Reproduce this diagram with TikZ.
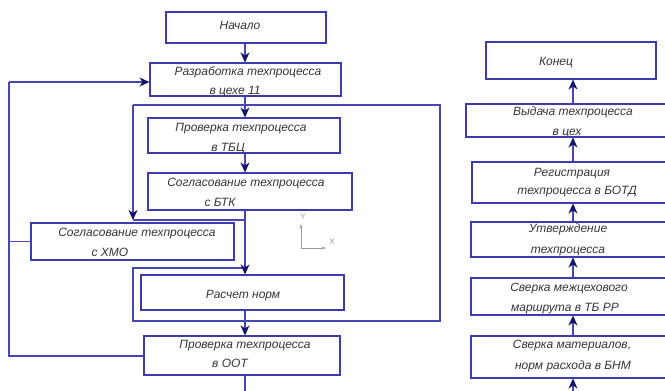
\documentclass[tikz,border=0pt]{standalone}
\usepackage{fontspec}
\setmainfont{Liberation Sans}
\usetikzlibrary{arrows.meta,calc}
\definecolor{boxblue}{HTML}{3C3CB0}
\definecolor{lineblue}{HTML}{4646B8}
\definecolor{headblue}{HTML}{14146E}
\definecolor{txtgray}{HTML}{363636}
\definecolor{axisgray}{HTML}{9A9A9A}
\tikzset{
  box/.style={draw=boxblue, line width=1.1pt, rectangle, inner sep=0pt},
  conn/.style={draw=lineblue, line width=1.1pt},
  arr/.style={conn, -{Stealth[length=10pt,width=9pt,inset=3pt,color=headblue]}},
  txt/.style={font=\itshape\fontsize{12}{14}\selectfont, text=txtgray, inner sep=0pt, anchor=base},
  axl/.style={font=\fontsize{8}{8}\selectfont, text=axisgray, inner sep=0pt},
}
\begin{document}
\begin{tikzpicture}[x=1pt,y=-1pt]
\useasboundingbox (0,0) rectangle (665,391);
\clip (0,0) rectangle (665,391);
\fill[white] (0,0) rectangle (665,391);
% boxes
\node[box, minimum width=160pt, minimum height=31pt] (start) at (246,27.5) {};
\node[box, minimum width=191pt, minimum height=33pt] (dev) at (245.5,79.5) {};
\node[box, minimum width=192pt, minimum height=35pt] (tbc) at (244,135.5) {};
\node[box, minimum width=204pt, minimum height=37pt] (btk) at (250,191.5) {};
\node[box, minimum width=203pt, minimum height=37pt] (xmo) at (132.5,241.5) {};
\node[box, minimum width=203pt, minimum height=35pt] (calc) at (242.5,292.5) {};
\node[box, minimum width=196pt, minimum height=39pt] (oot) at (242,355.5) {};
\node[box, minimum width=170pt, minimum height=37pt] (fin) at (571,60.5) {};
\node[box, minimum width=209pt, minimum height=33pt] (issue) at (570.5,120.5) {};
\node[box, minimum width=203pt, minimum height=41pt] (reg) at (573.5,182.5) {};
\node[box, minimum width=204pt, minimum height=35pt] (appr) at (573,239.5) {};
\node[box, minimum width=204pt, minimum height=37pt] (route) at (573,296.5) {};
\node[box, minimum width=204pt, minimum height=42pt] (mat) at (573,357) {};
% texts
\node[txt] (t1) at (240,29) {Начало};
\node[txt] (t2a) at (248,75) {Разработка техпроцесса};
\node[txt] (t2b) at (235,94) {в цехе 11};
\node[txt] (t3a) at (241,131) {Проверка техпроцесса};
\node[txt] (t3b) at (228,151) {в ТБЦ};
\node[txt] (t4a) at (246,186) {Согласование техпроцесса};
\node[txt] (t4b) at (220,206) {с БТК};
\node[txt] (t5a) at (137,236) {Согласование техпроцесса};
\node[txt] (t5b) at (110,256) {с ХМО};
\node[txt] (t6) at (243,298) {Расчет норм};
\node[txt] (t7a) at (245,348) {Проверка техпроцесса};
\node[txt] (t7b) at (230,367) {в ООТ};
\node[txt] (t8) at (556,65) {Конец};
\node[txt] (t9a) at (573,115) {Выдача техпроцесса};
\node[txt] (t9b) at (567,135) {в цех};
\node[txt] (t10a) at (572,176) {Регистрация};
\node[txt] (t10b) at (577,194) {техпроцесса в БОТД};
\node[txt] (t11a) at (568,232) {Утверждение};
\node[txt] (t11b) at (568,253) {техпроцесса};
\node[txt] (t12a) at (569,291) {Сверка межцехового};
\node[txt] (t12b) at (565,311) {маршрута в ТБ РР};
\node[txt] (t13a) at (572,348) {Сверка материалов,};
\node[txt] (t13b) at (573,369) {норм расхода в БНМ};
% helper coordinates
\coordinate (sx) at (245,0);
\coordinate (rx) at (573,0);
\coordinate (lt) at (133,105);
\coordinate (rt) at (440,105);
\coordinate (rb) at (440,321);
\coordinate (lb) at (133,321);
\coordinate (lm) at (133,268);
\coordinate (jn) at (133,220);
\coordinate (fb) at (9,82);
\coordinate (fbb) at (9,356);
\coordinate (bot) at (245,395);
\coordinate (rbot) at (573,395);
% loop frame
\draw[conn] (lm -| sx) -- (lm) -- (lb) -- (rb) -- (rt) -- (lt);
\draw[arr] (lt) -- (jn);
\draw[conn] (jn) -- (jn -| sx);
% main spine
\draw[arr] (start.south -| sx) -- (dev.north -| sx);
\draw[arr] (dev.south -| sx) -- (tbc.north -| sx);
\draw[arr] (tbc.south -| sx) -- (btk.north -| sx);
\draw[arr] (btk.south -| sx) -- (calc.north -| sx);
\draw[arr] (calc.south -| sx) -- (oot.north -| sx);
\draw[conn] (oot.south -| sx) -- (bot);
% feedback
\draw[conn] (oot.west |- fbb) -- (fbb) -- (fb);
\draw[arr] (fb) -- (fb -| dev.west);
\draw[conn] (xmo.west) -- (xmo.west -| fb);
% right column
\draw[arr] (rbot) -- (mat.south -| rx);
\draw[arr] (mat.north -| rx) -- (route.south -| rx);
\draw[arr] (route.north -| rx) -- (appr.south -| rx);
\draw[arr] (appr.north -| rx) -- (reg.south -| rx);
\draw[arr] (reg.north -| rx) -- (issue.south -| rx);
\draw[arr] (issue.north -| rx) -- (fin.south -| rx);
% axis symbol
\coordinate (ao) at (301,248);
\draw[axisgray, line width=0.6pt, -{Triangle[open,length=4pt,width=3pt]}] (ao) -- (301,224);
\draw[axisgray, line width=0.6pt, -{Triangle[open,length=4pt,width=3pt]}] (ao) -- (326,248);
\node[axl] (ay) at (303,217) {Y};
\node[axl] (ax) at (332,242) {X};
\end{tikzpicture}
\end{document}
